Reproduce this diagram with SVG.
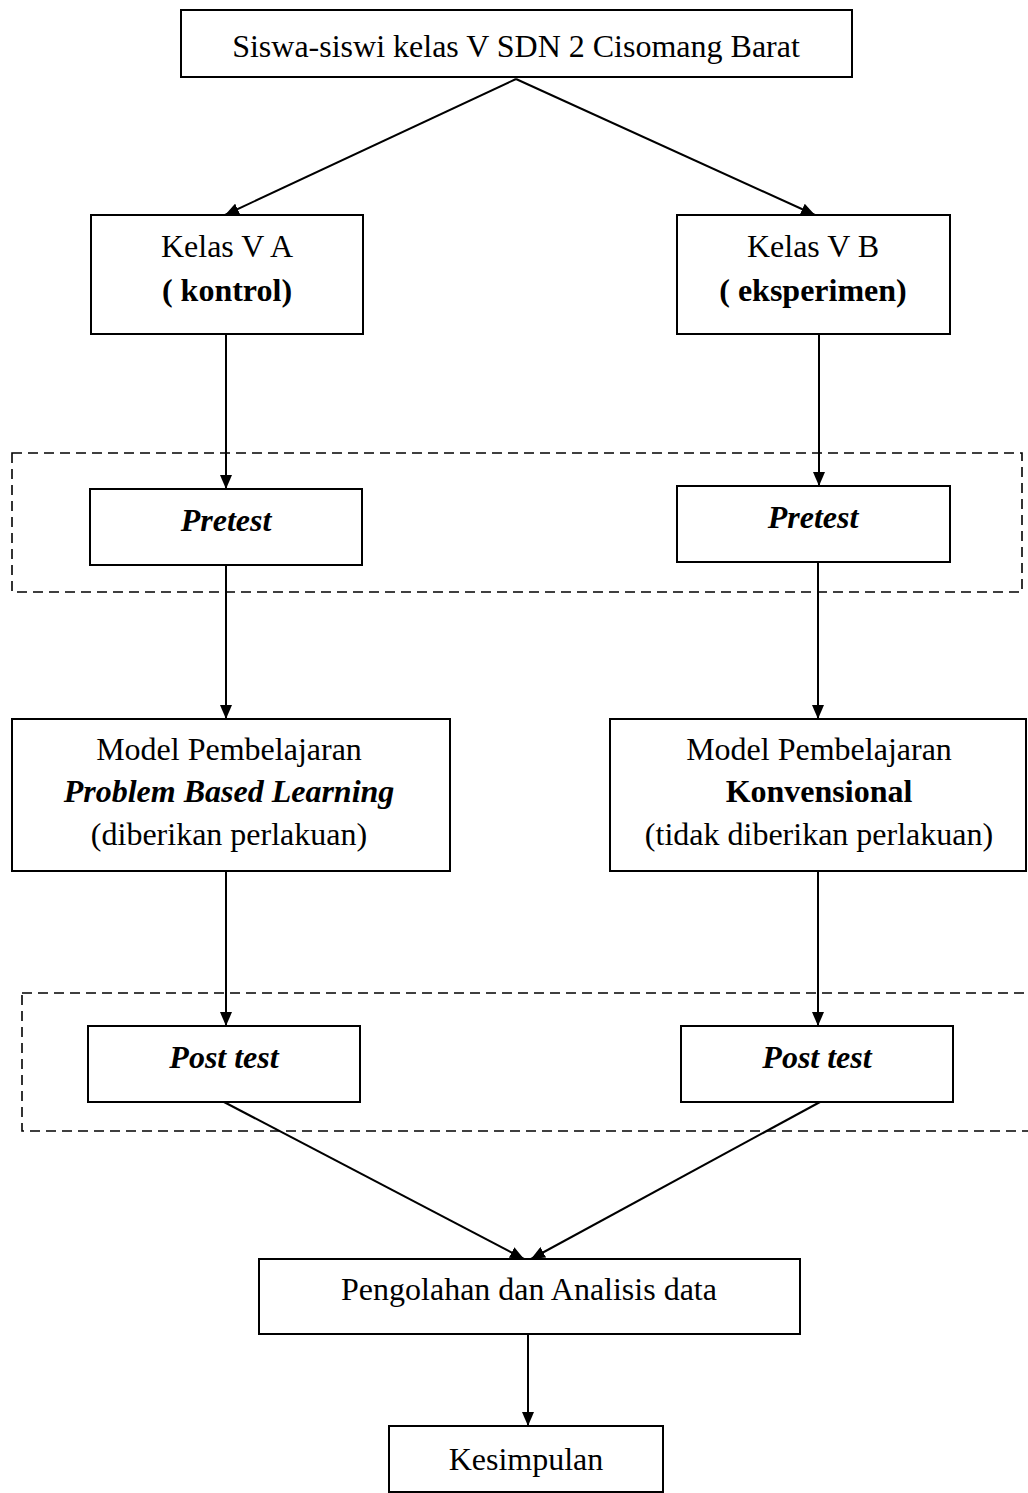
<svg xmlns="http://www.w3.org/2000/svg" width="1028" height="1493" viewBox="0 0 1028 1493">
<style>
.box{fill:#fff;stroke:#000;stroke-width:2}
.dash{fill:none;stroke:#000;stroke-width:1.6;stroke-dasharray:10 6}
.ln{fill:none;stroke:#000;stroke-width:2}
text{font-family:"Liberation Serif","Times New Roman",serif;font-size:32px;fill:#000;text-anchor:middle}
.b{font-weight:bold}
.bi{font-weight:bold;font-style:italic}
</style>
<defs>
<marker id="ah" viewBox="0 0 14 12" refX="14" refY="6" markerWidth="14" markerHeight="12" markerUnits="userSpaceOnUse" orient="auto">
<path d="M0,0 L14,6 L0,12 z" fill="#000"/>
</marker>
</defs>
<rect id="group-pretest" class="dash" x="12" y="453" width="1010" height="139"/>
<rect id="group-posttest" class="dash" x="22" y="993" width="1020" height="138"/>
<g id="connectors">
<line class="ln" x1="516" y1="79" x2="225" y2="215" marker-end="url(#ah)"/>
<line class="ln" x1="516" y1="79" x2="815" y2="215" marker-end="url(#ah)"/>
<line class="ln" x1="226" y1="334" x2="226" y2="489" marker-end="url(#ah)"/>
<line class="ln" x1="819" y1="334" x2="819" y2="486" marker-end="url(#ah)"/>
<line class="ln" x1="226" y1="565" x2="226" y2="719" marker-end="url(#ah)"/>
<line class="ln" x1="818" y1="562" x2="818" y2="719" marker-end="url(#ah)"/>
<line class="ln" x1="226" y1="871" x2="226" y2="1026" marker-end="url(#ah)"/>
<line class="ln" x1="818" y1="871" x2="818" y2="1026" marker-end="url(#ah)"/>
<line class="ln" x1="224" y1="1102" x2="524" y2="1259" marker-end="url(#ah)"/>
<line class="ln" x1="820" y1="1102" x2="531" y2="1259" marker-end="url(#ah)"/>
<line class="ln" x1="528" y1="1334" x2="528" y2="1426" marker-end="url(#ah)"/>
</g>
<g id="node-siswa">
<rect class="box" x="181" y="10" width="671" height="67"/>
<text x="516" y="57">Siswa-siswi kelas V SDN 2 Cisomang Barat</text>
</g>
<g id="node-kelas-va">
<rect class="box" x="91" y="215" width="272" height="119"/>
<text x="227" y="257">Kelas V A</text>
<text x="227" y="301" class="b">( kontrol)</text>
</g>
<g id="node-kelas-vb">
<rect class="box" x="677" y="215" width="273" height="119"/>
<text x="813" y="257">Kelas V B</text>
<text x="813" y="301" class="b">( eksperimen)</text>
</g>
<g id="node-pretest-a">
<rect class="box" x="90" y="489" width="272" height="76"/>
<text x="226" y="531" class="bi">Pretest</text>
</g>
<g id="node-pretest-b">
<rect class="box" x="677" y="486" width="273" height="76"/>
<text x="813" y="528" class="bi">Pretest</text>
</g>
<g id="node-model-pbl">
<rect class="box" x="12" y="719" width="438" height="152"/>
<text x="229" y="760">Model Pembelajaran</text>
<text x="229" y="802" class="bi">Problem Based Learning</text>
<text x="229" y="845">(diberikan perlakuan)</text>
</g>
<g id="node-model-konv">
<rect class="box" x="610" y="719" width="416" height="152"/>
<text x="819" y="760">Model Pembelajaran</text>
<text x="819" y="802" class="b">Konvensional</text>
<text x="819" y="845">(tidak diberikan perlakuan)</text>
</g>
<g id="node-posttest-a">
<rect class="box" x="88" y="1026" width="272" height="76"/>
<text x="224" y="1068" class="bi">Post test</text>
</g>
<g id="node-posttest-b">
<rect class="box" x="681" y="1026" width="272" height="76"/>
<text x="817" y="1068" class="bi">Post test</text>
</g>
<g id="node-analisis">
<rect class="box" x="259" y="1259" width="541" height="75"/>
<text x="529" y="1300">Pengolahan dan Analisis data</text>
</g>
<g id="node-kesimpulan">
<rect class="box" x="389" y="1426" width="274" height="66"/>
<text x="526" y="1470">Kesimpulan</text>
</g>
</svg>
